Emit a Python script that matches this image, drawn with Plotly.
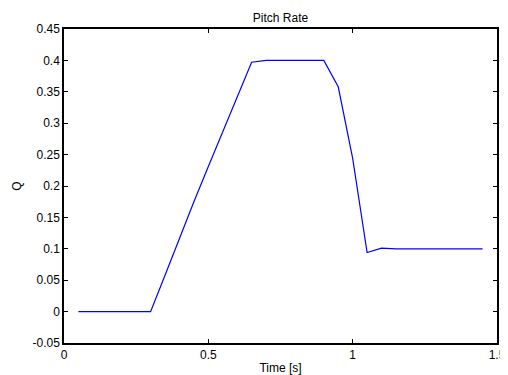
import plotly.graph_objects as go

time_s = [0.05, 0.10, 0.15, 0.20, 0.25, 0.30, 0.35, 0.40, 0.45, 0.50, 0.55, 0.60,
          0.65, 0.70, 0.75, 0.80, 0.85, 0.90, 0.95, 1.00, 1.05, 1.10, 1.15, 1.20,
          1.25, 1.30, 1.35, 1.40, 1.45]
pitch_rate = [0.0, 0.0, 0.0, 0.0, 0.0, 0.0, 0.058, 0.118, 0.175, 0.231, 0.287, 0.342,
              0.397, 0.400, 0.400, 0.400, 0.400, 0.400, 0.358, 0.244, 0.094, 0.101, 0.100, 0.100,
              0.100, 0.100, 0.100, 0.100, 0.100]

x_ticks = [0, 0.5, 1, 1.5]
x_tick_text = ["0", "0.5", "1", "1.5"]
y_ticks = [-0.05, 0, 0.05, 0.1, 0.15, 0.2, 0.25, 0.3, 0.35, 0.4, 0.45]
y_tick_text = ["-0.05", "0", "0.05", "0.1", "0.15", "0.2", "0.25", "0.3", "0.35", "0.4", "0.45"]

font_family = "Liberation Sans, Arial, sans-serif"

fig = go.Figure()
fig.add_trace(go.Scatter(x=time_s, y=pitch_rate, mode="lines",
                         line=dict(color="#0000FF", width=1.2), showlegend=False))

axis_common = dict(showline=True, linecolor="black", linewidth=1.5, mirror="ticks",
                   ticks="inside", ticklen=4, tickcolor="black", tickwidth=1,
                   showgrid=False, zeroline=False, automargin=False,
                   ticklabeloverflow="allow",
                   tickfont=dict(family=font_family, size=12, color="black"))

# the page body adds an 8px offset; the paper is a little wider than needed
# so the last x tick label has room, and the plot area stays where the reference has it
fig.update_layout(
    width=516, height=367,
    margin=dict(l=56, r=27, t=21, b=32, autoexpand=False),
    paper_bgcolor="white", plot_bgcolor="white",
    title=dict(text="Pitch Rate", x=0.5, xref="paper", y=1, yref="paper",
               yanchor="bottom", pad=dict(b=7), automargin=False,
               font=dict(family=font_family, size=12, color="black")),
    xaxis=dict(range=[0, 1.5], tickvals=x_ticks, ticktext=x_tick_text,
               title=dict(text="Time [s]", standoff=4,
                          font=dict(family=font_family, size=12, color="black")),
               **axis_common),
    yaxis=dict(range=[-0.05, 0.45], tickvals=y_ticks, ticktext=y_tick_text,
               title=dict(text="Q", standoff=8,
                          font=dict(family=font_family, size=12, color="black")),
               **axis_common),
)

fig.write_html("out.html")
